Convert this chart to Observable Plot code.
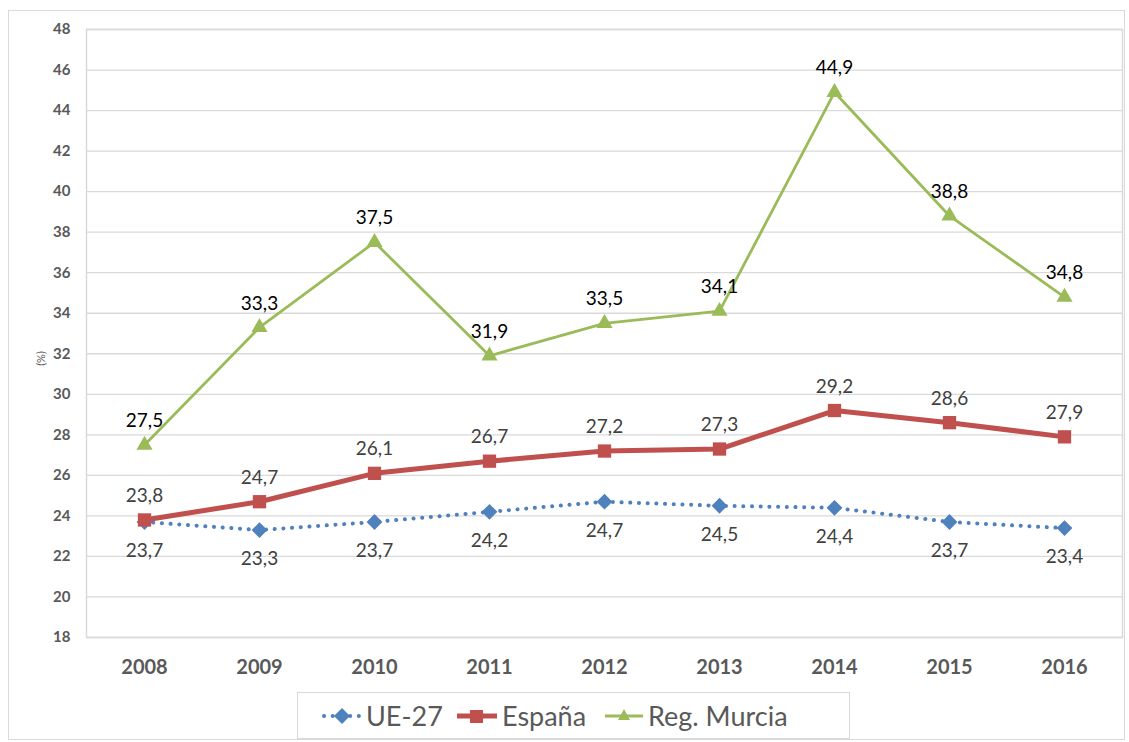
<!DOCTYPE html>
<html>
<head>
<meta charset="utf-8">
<script src="https://cdn.jsdelivr.net/npm/d3@7"></script>
<script src="https://cdn.jsdelivr.net/npm/@observablehq/plot@0.6"></script>
<style>
  html, body { margin: 0; padding: 0; background: #fff; }
  #wrap { position: relative; width: 1129px; height: 742px; font-family: Lato, "Open Sans", sans-serif; }
  #border { position: absolute; left: 8px; top: 10px; width: 1117px; height: 730px; border: 1px solid #d9d9d9; box-sizing: border-box; }
  #chart { position: absolute; left: 0; top: 0; }
  #legend { position: absolute; left: 297px; top: 692px; width: 553px; height: 47px; border: 1px solid #d9d9d9; box-sizing: border-box; background: #fff; }
  .item { position: absolute; top: 0; height: 45px; display: flex; align-items: center; font-size: 27px; color: #595959; }
  .item svg { margin-right: 4px; }
  #ylab { position: absolute; left: 33px; top: 352px; font-size: 11px; color: #595959; transform: rotate(-90deg); transform-origin: center; }
</style>
</head>
<body>
<div id="wrap">
  <div id="border"></div>
  <div id="chart"></div>
  <div id="ylab">(%)</div>
  <div id="legend"></div>
</div>
<script>
const years = ["2008","2009","2010","2011","2012","2013","2014","2015","2016"];
const ue27 = [23.7, 23.3, 23.7, 24.2, 24.7, 24.5, 24.4, 23.7, 23.4];
const espana = [23.8, 24.7, 26.1, 26.7, 27.2, 27.3, 29.2, 28.6, 27.9];
const murcia = [27.5, 33.3, 37.5, 31.9, 33.5, 34.1, 44.9, 38.8, 34.8];
const yTicks = d3.range(18, 49, 2);
const seriesNames = ["UE-27", "España", "Reg. Murcia"];
const colors = {"UE-27": "#4f81bd", "España": "#c0504d", "Reg. Murcia": "#9bbb59"};

const rows = (name, vals) => years.map((y, i) => ({year: y, value: vals[i], series: name}));
const dUE = rows("UE-27", ue27);
const dES = rows("España", espana);
const dMU = rows("Reg. Murcia", murcia);
const fmt = v => v.toFixed(1).replace(".", ",");

const plot = Plot.plot({
  width: 1129,
  height: 690,
  marginLeft: 86,
  marginRight: 7,
  marginTop: 29,
  marginBottom: 53,
  style: {fontFamily: "Lato, 'Open Sans', sans-serif", background: "transparent"},
  x: {type: "point", domain: years, padding: 0.5},
  y: {domain: [18, 48]},
  marks: [
    Plot.ruleY(yTicks, {stroke: "#d9d9d9", strokeWidth: 1.3}),
    Plot.frame({stroke: "#d9d9d9", strokeWidth: 1.5}),
    Plot.axisY({ticks: yTicks, tickSize: 0, tickPadding: 16, fontSize: 15, fontWeight: "bold", fill: "#595959", label: null, tickFormat: d => d}),
    Plot.axisX({tickSize: 0, tickPadding: 22, fontSize: 20, fontWeight: "bold", fill: "#595959", label: null}),
    // UE-27 dotted
    Plot.line(dUE, {x: "year", y: "value", stroke: colors["UE-27"], strokeWidth: 4, strokeDasharray: "0.1 8.6", strokeLinecap: "round"}),
    Plot.dot(dUE, {x: "year", y: "value", symbol: "square", rotate: 45, r: 6.3, fill: colors["UE-27"]}),
    // España
    Plot.line(dES, {x: "year", y: "value", stroke: colors["España"], strokeWidth: 5}),
    Plot.dot(dES, {x: "year", y: "value", symbol: "square", r: 7.5, fill: colors["España"]}),
    // Murcia
    Plot.line(dMU, {x: "year", y: "value", stroke: colors["Reg. Murcia"], strokeWidth: 2.8}),
    Plot.dot(dMU, {x: "year", y: "value", symbol: "triangle", r: 6, fill: colors["Reg. Murcia"]}),
    // labels
    Plot.text(dUE, {x: "year", y: "value", text: d => fmt(d.value), dy: 29, fontSize: 19, fill: "#404040"}),
    Plot.text(dES, {x: "year", y: "value", text: d => fmt(d.value), dy: -24, fontSize: 19, fill: "#404040"}),
    Plot.text(dMU, {x: "year", y: "value", text: d => fmt(d.value), dy: -24, fontSize: 19, fill: "#000000"})
  ]
});
document.getElementById("chart").appendChild(plot);

// Legend
const legend = document.getElementById("legend");
const items = [
  {name: "UE-27", left: 24, sw: "ue"},
  {name: "España", left: 158, sw: "es"},
  {name: "Reg. Murcia", left: 306, sw: "mu"}
];
items.forEach(it => {
  const div = document.createElement("div");
  div.className = "item";
  div.style.left = it.left + "px";
  const c = colors[it.name];
  let sw = "";
  if (it.sw === "ue") {
    sw = `<svg width="40" height="20"><line x1="2" y1="10" x2="38" y2="10" stroke="${c}" stroke-width="4" stroke-dasharray="0.1 8.6" stroke-linecap="round"/><path d="M20 2 L28 10 L20 18 L12 10 Z" fill="${c}"/></svg>`;
  } else if (it.sw === "es") {
    sw = `<svg width="42" height="20"><line x1="1" y1="10" x2="41" y2="10" stroke="${c}" stroke-width="5"/><rect x="14" y="4" width="13" height="13" fill="${c}"/></svg>`;
  } else {
    sw = `<svg width="40" height="20"><line x1="1" y1="10" x2="39" y2="10" stroke="${c}" stroke-width="2.8"/><path d="M20 3 L26 14 L14 14 Z" fill="${c}"/></svg>`;
  }
  div.innerHTML = sw + `<span>${it.name}</span>`;
  legend.appendChild(div);
});
</script>
</body>
</html>
